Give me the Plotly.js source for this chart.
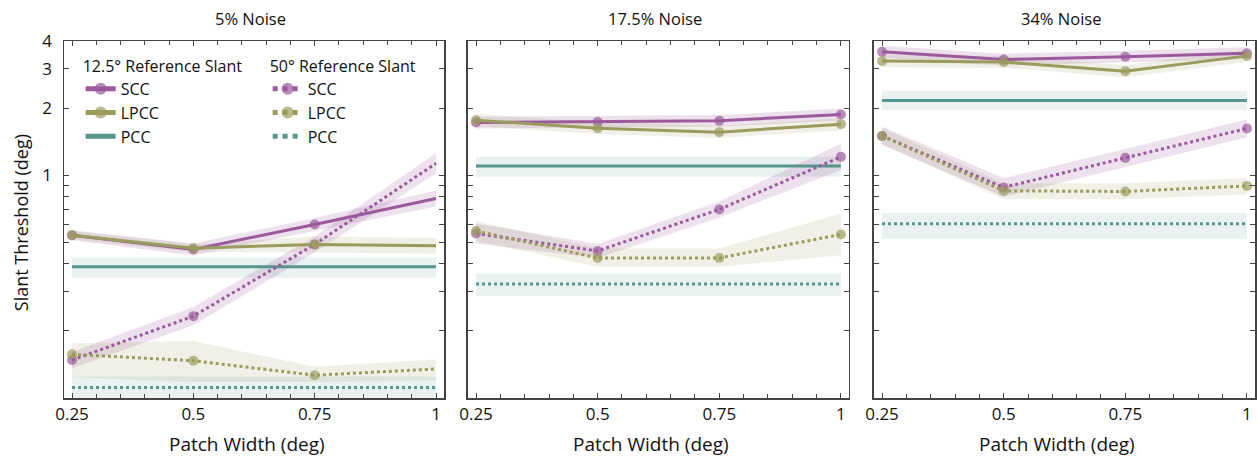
<!DOCTYPE html>
<html><head><meta charset="utf-8">
<script src="https://cdn.plot.ly/plotly-3.0.1.min.js"></script>
<style>body{margin:0;background:#fff}#chart{width:1257px;height:457px}</style>
</head><body><div id="chart"></div>
<script>
// ---------- data ----------
const patchWidth = [0.25, 0.5, 0.75, 1];
const panelTitles = ['5% Noise', '17.5% Noise', '34% Noise'];
const seriesNames = ['SCC', 'LPCC', 'PCC'];
const legendTitles = ['12.5° Reference Slant', '50° Reference Slant'];
const xTickVals = [0.25, 0.5, 0.75, 1];
const xTickText = ['0.25', '0.5', '0.75', '1'];
const yTickVals = [0.2, 0.3, 0.4, 0.5, 0.6, 0.7, 0.8, 0.9, 1, 2, 3, 4];
const yTickText = ['', '', '', '', '', '', '', '', '1', '2', '3', '4'];

// 12.5° reference slant (one row per noise level)
const scc12   = [[0.538, 0.464, 0.601, 0.786], [1.724, 1.734, 1.753, 1.873], [3.58, 3.30, 3.40, 3.52]];
const scc12Lo = [[0.511, 0.436, 0.562, 0.724], [1.62, 1.63, 1.65, 1.76], [3.36, 3.10, 3.20, 3.31]];
const scc12Hi = [[0.566, 0.494, 0.642, 0.854], [1.83, 1.84, 1.86, 1.99], [3.81, 3.51, 3.62, 3.75]];
const lpcc12   = [[0.538, 0.470, 0.489, 0.482], [1.765, 1.625, 1.56, 1.694], [3.25, 3.22, 2.93, 3.43]];
const lpcc12Lo = [[0.516, 0.451, 0.450, 0.444], [1.66, 1.53, 1.47, 1.59], [3.05, 3.03, 2.75, 3.22]];
const lpcc12Hi = [[0.561, 0.490, 0.531, 0.523], [1.88, 1.73, 1.66, 1.80], [3.46, 3.43, 3.12, 3.65]];
const pcc12   = [0.388, 1.098, 2.165];
const pcc12Lo = [0.346, 0.983, 1.96];
const pcc12Hi = [0.427, 1.208, 2.39];

// 50° reference slant
const scc50   = [[0.148, 0.233, 0.489, 1.13], [0.547, 0.457, 0.702, 1.208], [1.50, 0.881, 1.196, 1.62]];
const scc50Lo = [[0.136, 0.212, 0.450, 1.019], [0.493, 0.425, 0.646, 1.056], [1.37, 0.80, 1.09, 1.48]];
const scc50Hi = [[0.161, 0.256, 0.531, 1.253], [0.607, 0.491, 0.762, 1.382], [1.65, 0.97, 1.31, 1.78]];
const lpcc50   = [[0.157, 0.147, 0.1265, 0.135], [0.562, 0.425, 0.425, 0.542], [1.50, 0.85, 0.845, 0.895]];
const lpcc50Lo = [[0.124, 0.118, 0.118, 0.120], [0.507, 0.388, 0.388, 0.437], [1.38, 0.78, 0.78, 0.82]];
const lpcc50Hi = [[0.176, 0.180, 0.138, 0.149], [0.623, 0.469, 0.469, 0.673], [1.63, 0.92, 0.92, 0.97]];
const pcc50   = [0.1115, 0.325, 0.605];
const pcc50Lo = [0.097, 0.287, 0.518];
const pcc50Hi = [0.125, 0.362, 0.677];

// ---------- style ----------
const FONT = '"Open Sans", Lato, sans-serif';
const INK = '#111';
const FRAME = '#444';
const PURPLE = '#9a5a9c', OLIVE = '#9b9b5d', TEAL = '#56968f';
const BAND = {purple: 'rgba(154,90,156,0.18)', olive: 'rgba(155,155,93,0.15)', teal: 'rgba(86,150,143,0.13)'};
const domains = [[0, 0.3191], [0.3392, 0.6591], [0.6801, 1]];

const traces = [];
function axSuffix(p) { return p ? String(p + 1) : ''; }
function band(p, x, lo, hi, color) {
  traces.push({x: x.concat(x.slice().reverse()), y: hi.concat(lo.slice().reverse()),
    xaxis: 'x' + axSuffix(p), yaxis: 'y' + axSuffix(p),
    type: 'scatter', mode: 'lines', fill: 'toself', fillcolor: color,
    line: {width: 0, color: color}, hoverinfo: 'skip', showlegend: false});
}
function line(p, x, y, color, dash, withMarkers, name, legend, rank) {
  const t = {x: x, y: y, xaxis: 'x' + axSuffix(p), yaxis: 'y' + axSuffix(p),
    type: 'scatter', mode: withMarkers ? 'lines+markers' : 'lines', name: name,
    line: {color: color, width: 3, dash: dash},
    showlegend: p === 0, legend: legend, legendrank: rank};
  if (withMarkers) {
    t.marker = {color: color, line: {width: 0},
      size: x.map((v, i) => (p === 0 && i === x.length - 1) ? 0 : 10)};
  }
  traces.push(t);
}

for (let p = 0; p < 3; p++) {
  const ends = [patchWidth[0], patchWidth[patchWidth.length - 1]];
  band(p, ends, [pcc12Lo[p], pcc12Lo[p]], [pcc12Hi[p], pcc12Hi[p]], BAND.teal);
  band(p, ends, [pcc50Lo[p], pcc50Lo[p]], [pcc50Hi[p], pcc50Hi[p]], BAND.teal);
  band(p, patchWidth, scc12Lo[p], scc12Hi[p], BAND.purple);
  band(p, patchWidth, scc50Lo[p], scc50Hi[p], BAND.purple);
  band(p, patchWidth, lpcc12Lo[p], lpcc12Hi[p], BAND.olive);
  band(p, patchWidth, lpcc50Lo[p], lpcc50Hi[p], BAND.olive);
  line(p, ends, [pcc12[p], pcc12[p]], TEAL, 'solid', false, seriesNames[2], 'legend', 3);
  line(p, ends, [pcc50[p], pcc50[p]], TEAL, 'dot', false, seriesNames[2], 'legend2', 3);
  line(p, patchWidth, scc12[p], PURPLE, 'solid', true, seriesNames[0], 'legend', 1);
  line(p, patchWidth, scc50[p], PURPLE, 'dot', true, seriesNames[0], 'legend2', 1);
  line(p, patchWidth, lpcc12[p], OLIVE, 'solid', true, seriesNames[1], 'legend', 2);
  line(p, patchWidth, lpcc50[p], OLIVE, 'dot', true, seriesNames[1], 'legend2', 2);
}

const legendFont = {family: FONT, size: 16, color: INK};
const layout = {
  width: 1257, height: 457,
  margin: {l: 64, r: 2, t: 41, b: 59},
  paper_bgcolor: '#fff', plot_bgcolor: '#fff',
  font: {family: FONT, color: INK, size: 14},
  annotations: [],
  legend: {x: 0.014, y: 0.972, xanchor: 'left', yanchor: 'top', bgcolor: 'rgba(0,0,0,0)',
    font: legendFont, tracegroupgap: 0, itemsizing: 'constant',
    title: {text: legendTitles[0], side: 'top', font: legendFont}},
  legend2: {x: 0.171, y: 0.972, xanchor: 'left', yanchor: 'top', bgcolor: 'rgba(0,0,0,0)',
    font: legendFont, tracegroupgap: 0, itemsizing: 'constant',
    title: {text: legendTitles[1], side: 'top', font: legendFont}}
};
for (let p = 0; p < 3; p++) {
  const s = axSuffix(p);
  layout['xaxis' + s] = {domain: domains[p], anchor: 'y' + s, range: [0.2335, 1.0165],
    tickmode: 'array', tickvals: xTickVals, ticktext: xTickText,
    ticks: 'inside', ticklen: 5, tickwidth: 1, tickcolor: FRAME,
    minor: {dtick: 0.05, tick0: 0.25, ticks: 'inside', ticklen: 4, tickwidth: 1, tickcolor: FRAME},
    showline: true, linecolor: FRAME, linewidth: 1.5, mirror: 'ticks',
    showgrid: false, zeroline: false, fixedrange: true,
    tickfont: {family: FONT, size: 17, color: INK}};
  layout['yaxis' + s] = {domain: [0, 1], anchor: 'x' + s, type: 'log', range: [-1, Math.log10(4)],
    tickmode: 'array', tickvals: yTickVals, ticktext: yTickText, showticklabels: p === 0,
    ticks: 'inside', ticklen: 5, tickwidth: 1, tickcolor: FRAME, ticklabelstandoff: 7,
    showline: true, linecolor: FRAME, linewidth: 1.5, mirror: 'ticks',
    showgrid: false, zeroline: false, fixedrange: true,
    tickfont: {family: FONT, size: 17, color: INK}};
  const cx = (domains[p][0] + domains[p][1]) / 2;
  layout.annotations.push({text: panelTitles[p], xref: 'paper', yref: 'paper', x: cx - 0.003, y: 1.064,
    xanchor: 'center', yanchor: 'middle', showarrow: false, font: {family: FONT, size: 16.5, color: INK}});
  layout.annotations.push({text: 'Patch Width (deg)', xref: 'paper', yref: 'paper', x: cx - 0.006, y: -0.128,
    xanchor: 'center', yanchor: 'middle', showarrow: false, font: {family: FONT, size: 19, color: INK}});
}
layout.annotations.push({text: 'Slant Threshold (deg)', xref: 'paper', yref: 'paper', x: -0.036, y: 0.49,
  xanchor: 'center', yanchor: 'middle', textangle: -90, showarrow: false, font: {family: FONT, size: 18, color: INK}});

Plotly.newPlot('chart', traces, layout, {displayModeBar: false, staticPlot: true});
</script></body></html>
